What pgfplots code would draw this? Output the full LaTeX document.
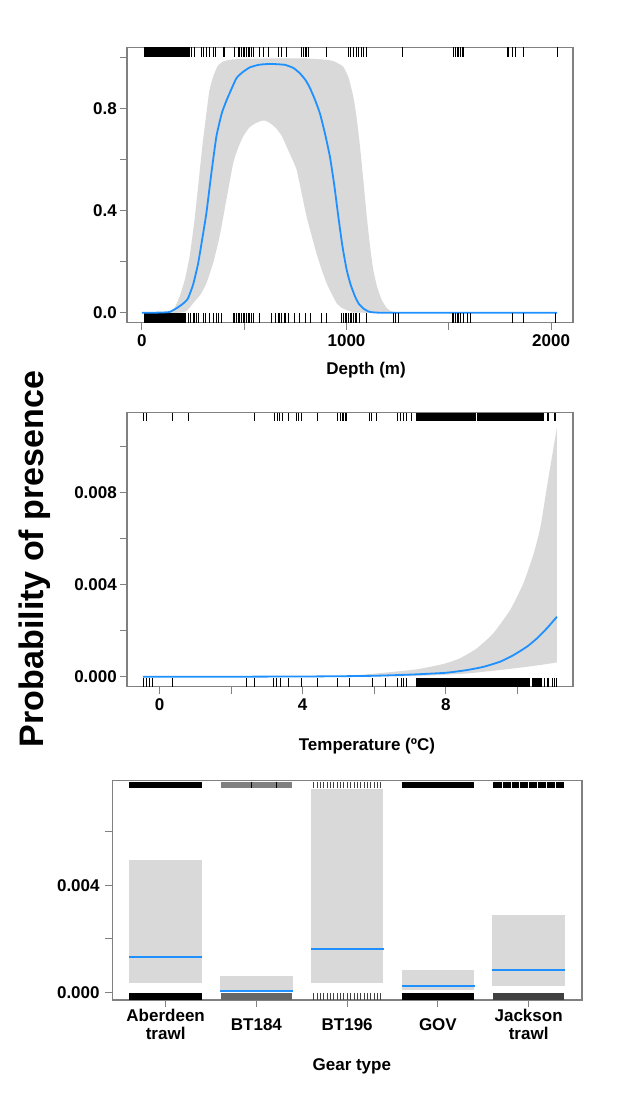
\documentclass[border=0pt]{standalone}
\usepackage{fontspec}
\setmainfont{Liberation Sans}
\usepackage{pgfplots}
\pgfplotsset{compat=1.18}
\usepgfplotslibrary{fillbetween}

\definecolor{bandgray}{RGB}{217,217,217}
\definecolor{fitblue}{RGB}{30,144,255}
\definecolor{framegray}{RGB}{128,128,128}

\pgfplotsset{
  rugpanel/.style={
    scale only axis, anchor=south west, clip=false,
    axis line style={framegray, line width=1.1pt},
    tick style={framegray, line width=1pt},
    tick align=outside, major tick length=7pt, minor tick length=7pt,
    xtick pos=left, ytick pos=left,
    scaled ticks=false,
    tick label style={font=\bfseries\fontsize{17}{18.5}\selectfont, inner sep=0pt},
    xticklabel style={anchor=base, yshift=-16.5pt},
    yticklabel style={anchor=east, xshift=-3pt},
    label style={font=\bfseries\fontsize{17}{17}\selectfont},
  },
  rug/.style={only marks, mark=|, mark size=#1,
    mark options={line width=0.7pt, draw=black}},
  rugblock/.style={fill=#1, draw=none},
  rugblock/.default=black,
  fit/.style={fitblue, line width=1.8pt, no marks},
  curve/.style={smooth, tension=0.3},
}

\begin{document}
\begin{tikzpicture}
\path (0,0) rectangle (625pt,-1093pt);

% shared y label
\node[rotate=90, font=\bfseries\fontsize{34}{34}\selectfont] at (35pt,-559pt) {Probability of presence};

%% ---------------- Depth ----------------
\begin{axis}[rugpanel, at={(127pt,-322.7pt)}, width=446pt, height=275.4pt,
  xmin=-73, xmax=2107, ymin=-0.039, ymax=1.0387,
  xtick={0,1000,2000}, xticklabels={0,1000,2000}, minor xtick={500,1500},
  ytick={0,0.4,0.8}, yticklabels={0.0,0.4,0.8}, minor ytick={0.2,0.6,1.0},
  xlabel={Depth (m)},
  xlabel style={at={(axis description cs:0.536,0)}, anchor=base, yshift=-52pt}]
\addplot[name path=dup, draw=none, curve] coordinates {
 (0,0) (120,0) (135,0.004) (160,0.02) (184,0.063) (210,0.13) (233,0.22)
 (255,0.35) (274,0.49) (295,0.65) (315,0.78) (330,0.87) (348,0.924)
 (370,0.965) (397,0.983) (430,0.99) (478,0.993) (600,0.995) (800,0.995)
 (900,0.99) (935,0.985) (960,0.975) (984,0.963) (1010,0.92) (1033,0.846)
 (1050,0.76) (1066,0.65) (1082,0.52) (1099,0.376) (1115,0.26) (1131,0.167)
 (1150,0.10) (1172,0.05) (1195,0.02) (1213,0.008) (1240,0.002) (1270,0)
 (2029,0)};
\addplot[name path=dlo, draw=none, curve] coordinates {
 (0,0) (184,0) (220,0.008) (250,0.037) (285,0.07) (315,0.115) (350,0.20)
 (380,0.30) (410,0.43) (446,0.585) (470,0.645) (495,0.69) (525,0.725)
 (552,0.74) (580,0.75) (601,0.752) (630,0.74) (658,0.72) (685,0.69)
 (707,0.65) (730,0.61) (756,0.56) (780,0.47) (805,0.376) (830,0.30)
 (854,0.23) (880,0.165) (903,0.115) (930,0.07) (952,0.037) (975,0.02)
 (1001,0.01) (1030,0.003) (1060,0) (2029,0)};
\addplot[bandgray] fill between[of=dup and dlo];
% presences (top) and absences (bottom)
\addplot[rugblock] coordinates {(11,1.0008) (235,1.0008) (235,1.0387) (11,1.0387)} --cycle;
\addplot[rug=4.85pt] coordinates {
 (242,1.0197) (258,1.0197) (291,1.0197) (299,1.0197) (315,1.0197) (331,1.0197)
 (348,1.0197) (361,1.0197) (397,1.0197) (405,1.0197) (454,1.0197) (470,1.0197)
 (478,1.0197) (487,1.0197) (495,1.0197) (503,1.0197) (511,1.0197) (519,1.0197)
 (527,1.0197) (536,1.0197) (544,1.0197) (576,1.0197) (593,1.0197) (617,1.0197)
 (666,1.0197) (682,1.0197) (707,1.0197) (780,1.0197) (789,1.0197) (797,1.0197)
 (805,1.0197) (813,1.0197) (900,1.0197) (1009,1.0197) (1017,1.0197) (1033,1.0197)
 (1050,1.0197) (1058,1.0197) (1074,1.0197) (1082,1.0197) (1099,1.0197) (1275,1.0197)
 (1523,1.0197) (1531,1.0197) (1540,1.0197) (1548,1.0197) (1556,1.0197) (1564,1.0197)
 (1572,1.0197) (1784,1.0197) (1793,1.0197) (1809,1.0197) (1825,1.0197) (1863,1.0197)
 (2029,1.0197)};
\addplot[rugblock] coordinates {(11,-0.0023) (215,-0.0023) (215,-0.039) (11,-0.039)} --cycle;
\addplot[rug=4.7pt] coordinates {
 (225,-0.0207) (237,-0.0207) (250,-0.0207) (258,-0.0207) (266,-0.0207) (274,-0.0207)
 (299,-0.0207) (312,-0.0207) (331,-0.0207) (348,-0.0207) (364,-0.0207) (372,-0.0207)
 (389,-0.0207) (446,-0.0207) (454,-0.0207) (462,-0.0207) (470,-0.0207) (478,-0.0207)
 (487,-0.0207) (495,-0.0207) (503,-0.0207) (511,-0.0207) (519,-0.0207) (527,-0.0207)
 (536,-0.0207) (547,-0.0207) (576,-0.0207) (633,-0.0207) (653,-0.0207) (666,-0.0207)
 (674,-0.0207) (682,-0.0207) (696,-0.0207) (702,-0.0207) (715,-0.0207) (743,-0.0207)
 (767,-0.0207) (797,-0.0207) (821,-0.0207) (878,-0.0207) (900,-0.0207) (976,-0.0207)
 (984,-0.0207) (993,-0.0207) (1001,-0.0207) (1009,-0.0207) (1017,-0.0207) (1025,-0.0207)
 (1033,-0.0207) (1042,-0.0207) (1050,-0.0207) (1063,-0.0207) (1099,-0.0207) (1229,-0.0207)
 (1238,-0.0207) (1254,-0.0207) (1515,-0.0207) (1523,-0.0207) (1531,-0.0207) (1540,-0.0207)
 (1548,-0.0207) (1556,-0.0207) (1572,-0.0207) (1589,-0.0207) (1605,-0.0207) (1809,-0.0207)
 (1863,-0.0207) (2021,-0.0207)};
\addplot[fit, curve] coordinates {
 (0,0) (50,0) (100,0.001) (135,0.003) (168,0.017) (200,0.035) (225,0.056)
 (250,0.11) (274,0.19) (295,0.29) (315,0.39) (340,0.55) (364,0.69) (390,0.78)
 (413,0.83) (440,0.88) (462,0.918) (490,0.94) (527,0.96) (570,0.970)
 (609,0.973) (650,0.973) (699,0.970) (740,0.958) (772,0.937) (800,0.91)
 (821,0.88) (845,0.835) (870,0.78) (895,0.70) (919,0.61) (940,0.50)
 (960,0.376) (980,0.26) (1001,0.167) (1020,0.11) (1042,0.063) (1060,0.035)
 (1082,0.017) (1100,0.008) (1115,0.003) (1140,0.001) (1180,0) (1500,0) (2029,0)};
\end{axis}

%% ---------------- Temperature ----------------
\begin{axis}[rugpanel, at={(127pt,-686.7pt)}, width=446pt, height=274pt,
  xmin=-0.915, xmax=11.56, ymin=-0.000434, ymax=0.011453,
  xtick={0,4,8}, xticklabels={0,4,8}, minor xtick={2,6,10},
  ytick={0,0.004,0.008}, yticklabels={0.000,0.004,0.008},
  minor ytick={0.002,0.006,0.010},
  xlabel={Temperature (ºC)},
  xlabel style={at={(axis description cs:0.538,0)}, anchor=base, yshift=-64pt}]
\addplot[name path=tup, draw=none, curve] coordinates {
 (-0.47,0) (3,0) (4,0.00001) (4.86,0.00003) (5.6,0.00008) (6.26,0.00017)
 (7.19,0.00032) (7.93,0.00055) (8.40,0.0008) (8.87,0.00123) (9.33,0.00188)
 (9.80,0.00289) (10.17,0.00404) (10.46,0.00534) (10.65,0.0065)
 (10.83,0.00823) (10.97,0.00953) (11.11,0.0108)};
\addplot[name path=tlo, draw=none, curve] coordinates {
 (-0.47,0) (6.26,0.00001) (7.66,0.00006) (8.59,0.00014) (9.52,0.00029)
 (10.27,0.00043) (10.83,0.00055) (11.11,0.00062)};
\addplot[bandgray] fill between[of=tup and tlo];
\addplot[rugblock] coordinates {(7.18,0.011106) (10.75,0.011106) (10.75,0.011453) (7.18,0.011453)} --cycle;
\addplot[only marks, mark=|, mark size=4pt, mark options={line width=0.8pt, draw=white}]
 coordinates {(8.86,0.01128)};
\addplot[rug=4pt] coordinates {
 (-0.45,0.01128) (-0.37,0.01128) (0.35,0.01128) (0.79,0.01128) (2.66,0.01128)
 (3.22,0.01128) (3.30,0.01128) (3.36,0.01128) (3.44,0.01128) (3.59,0.01128)
 (3.81,0.01128) (3.89,0.01128) (3.95,0.01128) (4.41,0.01128) (4.97,0.01128)
 (5.06,0.01128) (5.10,0.01128) (5.14,0.01128) (5.18,0.01128) (5.23,0.01128)
 (5.86,0.01128) (5.93,0.01128) (6.05,0.01128) (6.66,0.01128) (6.72,0.01128)
 (6.82,0.01128) (6.91,0.01128) (7.05,0.01128) (10.84,0.01128) (10.88,0.01128)
 (11.03,0.01128) (11.08,0.01128)};
\addplot[rugblock] coordinates {(7.18,-0.00007) (10.37,-0.00007) (10.37,-0.000434) (7.18,-0.000434)} --cycle;
\addplot[rugblock] coordinates {(10.42,-0.00007) (10.70,-0.00007) (10.70,-0.000434) (10.42,-0.000434)} --cycle;
\addplot[rug=4.2pt] coordinates {
 (-0.45,-0.000252) (-0.37,-0.000252) (-0.30,-0.000252) (-0.21,-0.000252)
 (0.35,-0.000252) (2.43,-0.000252) (2.64,-0.000252) (3.19,-0.000252)
 (3.27,-0.000252) (3.38,-0.000252) (3.61,-0.000252) (3.97,-0.000252)
 (4.41,-0.000252) (4.98,-0.000252) (5.30,-0.000252) (5.95,-0.000252)
 (6.30,-0.000252) (6.66,-0.000252) (6.75,-0.000252) (6.82,-0.000252)
 (6.91,-0.000252) (10.77,-0.000252) (10.84,-0.000252) (10.88,-0.000252)
 (10.98,-0.000252) (11.03,-0.000252) (11.09,-0.000252)};
\addplot[fit, curve] coordinates {
 (-0.47,0) (2,0) (4,0.00001) (5,0.00002) (6,0.00004) (7,0.00009) (8,0.00017)
 (8.6,0.00029) (9.06,0.00043) (9.52,0.00065) (9.9,0.00094) (10.27,0.0013)
 (10.55,0.00166) (10.83,0.0021) (11.11,0.0026)};
\end{axis}

%% ---------------- Gear type ----------------
\begin{axis}[rugpanel, at={(112.3pt,-1000pt)}, width=469.7pt, height=219.3pt,
  xmin=0.412, xmax=5.588, ymin=-0.000288, ymax=0.00791,
  xtick={1,2,3,4,5},
  xticklabels={{Aberdeen\\trawl},BT184,BT196,GOV,{Jackson\\trawl}},
  xticklabel style={align=center, anchor=center, yshift=-1pt},
  ytick={0,0.004}, yticklabels={0.000,0.004}, minor ytick={0.002,0.006},
  yticklabel style={xshift=-2.5pt},
  xlabel={Gear type},
  xlabel style={at={(axis description cs:0.51,0)}, anchor=base, yshift=-70pt}]
% confidence intervals
\addplot[rugblock=bandgray] coordinates {(0.6,0.00036) (1.4,0.00036) (1.4,0.00495) (0.6,0.00495)} --cycle;
\addplot[rugblock=bandgray] coordinates {(1.6,0.00001) (2.4,0.00001) (2.4,0.00061) (1.6,0.00061)} --cycle;
\addplot[rugblock=bandgray] coordinates {(2.6,0.00036) (3.4,0.00036) (3.4,0.0076) (2.6,0.0076)} --cycle;
\addplot[rugblock=bandgray] coordinates {(3.6,0.00007) (4.4,0.00007) (4.4,0.00082) (3.6,0.00082)} --cycle;
\addplot[rugblock=bandgray] coordinates {(4.6,0.00024) (5.4,0.00024) (5.4,0.0029) (4.6,0.0029)} --cycle;
% rugs: top = presences, bottom = absences
\addplot[rugblock] coordinates {(0.6,0.007626) (1.4,0.007626) (1.4,0.007873) (0.6,0.007873)} --cycle;
\addplot[rugblock=black!50] coordinates {(1.607,0.007626) (2.397,0.007626) (2.397,0.007873) (1.607,0.007873)} --cycle;
\addplot[rugblock] coordinates {(3.603,0.007626) (4.401,0.007626) (4.401,0.007873) (3.603,0.007873)} --cycle;
\addplot[rugblock] coordinates {(4.607,0.007626) (5.393,0.007626) (5.393,0.007873) (4.607,0.007873)} --cycle;
\addplot[only marks, mark=|, mark size=3.3pt, mark options={line width=0.9pt, draw=white}] coordinates {
 (4.706,0.00775) (4.805,0.00775) (4.901,0.00775) (5.0,0.00775)
 (5.099,0.00775) (5.195,0.00775) (5.294,0.00775)};
\addplot[only marks, mark=|, mark size=3.3pt, mark options={line width=0.6pt, draw=black}] coordinates {
 (1.949,0.00775) (2.22,0.00775)};
\addplot[only marks, mark=|, mark size=3.3pt, mark options={line width=0.6pt, draw=black!75}] coordinates {
 (2.630,0.00775) (2.667,0.00775) (2.704,0.00775) (2.741,0.00775) (2.778,0.00775)
 (2.815,0.00775) (2.852,0.00775) (2.889,0.00775) (2.926,0.00775) (2.963,0.00775)
 (3.000,0.00775) (3.037,0.00775) (3.074,0.00775) (3.111,0.00775) (3.148,0.00775)
 (3.185,0.00775) (3.222,0.00775) (3.259,0.00775) (3.296,0.00775) (3.333,0.00775)
 (3.370,0.00775)};
\addplot[rugblock] coordinates {(0.6,-0.0000374) (1.4,-0.0000374) (1.4,-0.000288) (0.6,-0.000288)} --cycle;
\addplot[rugblock=black!60] coordinates {(1.607,-0.0000374) (2.397,-0.0000374) (2.397,-0.000288) (1.607,-0.000288)} --cycle;
\addplot[rugblock] coordinates {(3.603,-0.0000374) (4.401,-0.0000374) (4.401,-0.000288) (3.603,-0.000288)} --cycle;
\addplot[rugblock=black!75] coordinates {(4.607,-0.0000374) (5.393,-0.0000374) (5.393,-0.000288) (4.607,-0.000288)} --cycle;
\addplot[only marks, mark=|, mark size=3.4pt, mark options={line width=0.6pt, draw=black!75}] coordinates {
 (2.630,-0.000163) (2.667,-0.000163) (2.704,-0.000163) (2.741,-0.000163) (2.778,-0.000163)
 (2.815,-0.000163) (2.852,-0.000163) (2.889,-0.000163) (2.926,-0.000163) (2.963,-0.000163)
 (3.000,-0.000163) (3.037,-0.000163) (3.074,-0.000163) (3.111,-0.000163) (3.148,-0.000163)
 (3.185,-0.000163) (3.222,-0.000163) (3.259,-0.000163) (3.296,-0.000163) (3.333,-0.000163)
 (3.370,-0.000163)};
% fitted probabilities
\addplot[fit] coordinates {(0.6,0.00131) (1.405,0.00131)};
\addplot[fit] coordinates {(1.6,0.00006) (2.405,0.00006)};
\addplot[fit] coordinates {(2.6,0.00162) (3.405,0.00162)};
\addplot[fit] coordinates {(3.6,0.00025) (4.405,0.00025)};
\addplot[fit] coordinates {(4.6,0.00082) (5.405,0.00082)};
\end{axis}
\end{tikzpicture}
\end{document}
